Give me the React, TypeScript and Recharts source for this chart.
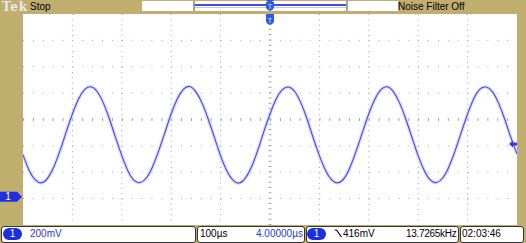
import React from 'react';
import {
  LineChart,
  Line,
  XAxis,
  YAxis,
  CartesianGrid,
  ReferenceLine,
  ReferenceDot,
} from 'recharts';

// sample times in µs (100 µs/div, 10 div on screen)
const times = [
  0, 12.5, 25, 37.5, 50, 62.5, 75, 87.5, 100, 112.5, 125, 137.5, 150, 162.5, 175, 187.5,
  200, 212.5, 225, 237.5, 250, 262.5, 275, 287.5, 300, 312.5, 325, 337.5, 350, 362.5, 375, 387.5,
  400, 412.5, 425, 437.5, 450, 462.5, 475, 487.5, 500, 512.5, 525, 537.5, 550, 562.5, 575, 587.5,
  600, 612.5, 625, 637.5, 650, 662.5, 675, 687.5, 700, 712.5, 725, 737.5, 750, 762.5, 775, 787.5,
  800, 812.5, 825, 837.5, 850, 862.5, 875, 887.5, 900, 912.5, 925, 937.5, 950, 962.5, 975, 987.5,
  1000,
];

// channel 1 trace, in divisions from screen centre (200 mV/div)
const ch1Div = [
  -1.34, -1.93, -2.29, -2.4, -2.22, -1.79, -1.18, -0.47, 0.21, 0.78, 1.14, 1.24, 1.06, 0.63, 0.02, -0.69,
  -1.37, -1.95, -2.31, -2.39, -2.21, -1.78, -1.17, -0.48, 0.22, 0.79, 1.15, 1.25, 1.05, 0.62, 0.01, -0.68,
  -1.38, -1.94, -2.3, -2.41, -2.22, -1.8, -1.18, -0.46, 0.21, 0.78, 1.13, 1.23, 1.06, 0.63, 0.02, -0.7,
  -1.37, -1.93, -2.29, -2.4, -2.23, -1.79, -1.16, -0.47, 0.22, 0.78, 1.14, 1.24, 1.05, 0.62, 0.01, -0.69,
  -1.38, -1.94, -2.3, -2.39, -2.21, -1.78, -1.17, -0.47, 0.21, 0.79, 1.15, 1.23, 1.06, 0.63, 0.02, -0.68,
  -1.3,
];

const xGrid = [100, 200, 300, 400, 600, 700, 800, 900];
const yGrid = [-3, -2, -1, 1, 2, 3];

const groundLevel = -2.93;
const trigLevel = -0.93;
const trigTime = 500;

const xMinor = Array.from({ length: 51 }, (_, i) => i * 20);
const yMinor = Array.from({ length: 41 }, (_, i) => -4 + i * 0.2);

const data = times.map((t, i) => ({ t, v: ch1Div[i] }));

const TAN = '#BFAE6D';
const BLUE = '#2a36dc';
const FONT = '"Liberation Sans", Arial, sans-serif';
const noLabel = () => '';

const ChannelMarker = (p: any) => {
  const { cx, cy } = p;
  const l = cx - 23;
  return (
    <g>
      <path
        d={`M${l},${cy - 5} H${cx - 6} L${cx - 1},${cy} L${cx - 6},${cy + 5} H${l} Z`}
        fill="#1f2fe0"
      />
      <text x={l + 8} y={cy + 3.5} fill="#fff" fontSize={10} fontFamily={FONT} textAnchor="middle">
        1
      </text>
    </g>
  );
};

const TrigLevelMarker = (p: any) => {
  const { cx, cy } = p;
  return (
    <path
      d={`M${cx - 8},${cy} L${cx - 4},${cy - 3.5} V${cy - 1.5} H${cx} V${cy + 1.5} H${cx - 4} V${cy + 3.5} Z`}
      fill="#2a3ae8"
    />
  );
};

const shield = (cx: number, y: number) =>
  `M${cx - 4},${y} H${cx + 4} V${y + 5} Q${cx + 4},${y + 7.5} ${cx},${y + 9} Q${cx - 4},${y + 7.5} ${cx - 4},${y + 5} Z`;

const TrigPosMarker = (p: any) => {
  const { cx, cy } = p;
  return (
    <g>
      <path d={`M${cx - 4.5},${cy - 14} H${cx + 4.5} L${cx},${cy - 10.5} Z`} fill="#2d5be6" />
      <path d={shield(cx, cy - 12)} fill="#2d5be6" />
      <text x={cx} y={cy - 5.5} fill="#dfe8ff" fontSize={7} fontFamily={FONT} textAnchor="middle">
        T
      </text>
      <rect x={cx - 4} y={cy} width={8} height={2} fill="#2d5be6" />
      <path d={shield(cx, cy + 2)} fill="#2d5be6" />
      <text x={cx} y={cy + 8.5} fill="#dfe8ff" fontSize={7} fontFamily={FONT} textAnchor="middle">
        T
      </text>
    </g>
  );
};

const txt = (left: number, top: number, color = '#000'): React.CSSProperties => ({
  position: 'absolute',
  left,
  top,
  color,
  fontSize: 10,
  lineHeight: '12px',
  fontFamily: FONT,
  whiteSpace: 'nowrap',
});

const box = (left: number, width: number): React.CSSProperties => ({
  position: 'absolute',
  left,
  top: 226,
  width,
  height: 17,
  boxSizing: 'border-box',
  background: '#fff',
  border: '1px solid #333',
  borderRadius: 3,
});

const pill = (left: number): React.CSSProperties => ({
  position: 'absolute',
  left,
  top: 228,
  width: 19,
  height: 12,
  borderRadius: 6,
  background: '#1d2de0',
  color: '#fff',
  fontSize: 10,
  lineHeight: '12px',
  textAlign: 'center',
  fontFamily: FONT,
});

export default function App() {
  return (
    <div
      style={{
        position: 'fixed',
        left: 0,
        top: 0,
        width: 526,
        height: 243,
        background: TAN,
        overflow: 'hidden',
      }}
    >
      {/* screen */}
      <div style={{ position: 'absolute', left: 23, top: 14, width: 494, height: 211, background: '#fff' }} />

      {/* top bar */}
      <div
        style={{
          position: 'absolute',
          left: 2,
          top: 0,
          fontFamily: '"DejaVu Serif", serif',
          fontWeight: 'bold',
          fontSize: 12,
          lineHeight: '14px',
          letterSpacing: 0.8,
          color: '#ebe8f2',
        }}
      >
        Tek
      </div>
      <div style={txt(30, 1)}>Stop</div>
      <div style={{ position: 'absolute', left: 142, top: 1, width: 256, height: 10, background: '#fff' }} />
      <div style={{ position: 'absolute', left: 193, top: 1, width: 2, height: 10, background: '#a0a0a0' }} />
      <div style={{ position: 'absolute', left: 195, top: 4, width: 151, height: 2, background: '#4a4ad8' }} />
      <div style={{ position: 'absolute', left: 195, top: 7, width: 151, height: 1, background: '#c4c4f0' }} />
      <div style={{ position: 'absolute', left: 346, top: 1, width: 2, height: 10, background: '#a0a0a0' }} />
      <div style={txt(398, 1)}>Noise Filter Off</div>

      <div style={{ position: 'absolute', left: 0, top: 0 }}>
        <LineChart width={526} height={243} data={data} margin={{ top: 14, right: 9, bottom: 18, left: 23 }}>
          <XAxis
            xAxisId="b"
            dataKey="t"
            type="number"
            domain={[0, 1000]}
            ticks={xMinor}
            interval={0}
            orientation="bottom"
            mirror
            height={0}
            axisLine={false}
            tickSize={3}
            tickLine={{ stroke: '#9a9aa8' }}
            tickFormatter={noLabel}
          />
          <XAxis
            xAxisId="top"
            dataKey="t"
            type="number"
            domain={[0, 1000]}
            ticks={xMinor}
            interval={0}
            orientation="top"
            mirror
            height={0}
            axisLine={{ stroke: '#8a8a8a', strokeDasharray: '3 2' }}
            tickSize={3}
            tickLine={{ stroke: '#9a9aa8' }}
            tickFormatter={noLabel}
          />
          <YAxis
            yAxisId="l"
            type="number"
            domain={[-4, 4]}
            ticks={yMinor}
            interval={0}
            orientation="left"
            mirror
            width={0}
            axisLine={{ stroke: '#6e3c14' }}
            tickSize={3}
            tickLine={{ stroke: '#8a6a4a' }}
            tickFormatter={noLabel}
          />
          <YAxis
            yAxisId="r"
            type="number"
            domain={[-4, 4]}
            ticks={yMinor}
            interval={0}
            orientation="right"
            mirror
            width={0}
            axisLine={{ stroke: '#8a8a8a', strokeDasharray: '3 2' }}
            tickSize={3}
            tickLine={{ stroke: '#9a9aa8' }}
            tickFormatter={noLabel}
          />
          <CartesianGrid
            xAxisId="b"
            yAxisId="l"
            vertical={false}
            horizontalValues={yGrid}
            stroke="#a4a4b8"
            strokeDasharray="1 8.88"
          />
          <CartesianGrid
            xAxisId="b"
            yAxisId="l"
            horizontal={false}
            verticalValues={xGrid}
            stroke="#a4a4b8"
            strokeDasharray="1 4.275"
          />
          <ReferenceLine xAxisId="b" yAxisId="l" y={0} stroke="#a4a4b8" strokeWidth={3} strokeDasharray="1 8.88" />
          <ReferenceLine xAxisId="b" yAxisId="l" x={500} stroke="#a4a4b8" strokeWidth={3} strokeDasharray="1 4.275" />
          <Line
            xAxisId="b"
            yAxisId="l"
            dataKey="v"
            type="natural"
            stroke="#c2c6f8"
            strokeOpacity={0.6}
            strokeWidth={3.5}
            dot={false}
            activeDot={false}
            isAnimationActive={false}
          />
          <Line
            xAxisId="b"
            yAxisId="l"
            dataKey="v"
            type="natural"
            stroke="#4848e6"
            strokeWidth={1.1}
            dot={false}
            activeDot={false}
            isAnimationActive={false}
          />
          <ReferenceDot xAxisId="b" yAxisId="l" x={0} y={groundLevel} ifOverflow="visible" shape={ChannelMarker} />
          <ReferenceDot xAxisId="b" yAxisId="l" x={1000} y={trigLevel} ifOverflow="visible" shape={TrigLevelMarker} />
          <ReferenceDot xAxisId="b" yAxisId="l" x={trigTime} y={4} ifOverflow="visible" shape={TrigPosMarker} />
        </LineChart>
      </div>

      {/* bottom readouts */}
      <div style={box(1, 195)} />
      <div style={pill(3)}>1</div>
      <div style={txt(30, 228, BLUE)}>200mV</div>

      <div style={box(197, 108)} />
      <div style={txt(200, 228)}>100µs</div>
      <div style={txt(256, 228, BLUE)}>4.00000µs</div>

      <div style={box(306, 153)} />
      <div style={pill(307)}>1</div>
      <svg style={{ position: 'absolute', left: 334, top: 229 }} width={9} height={9}>
        <polyline points="0.5,1 2.5,1 7.5,8" fill="none" stroke="#000" strokeWidth={1.2} />
      </svg>
      <div style={txt(343, 228)}>416mV</div>
      <div style={{ ...txt(406, 228), letterSpacing: -0.3 }}>13.7265kHz</div>

      <div style={box(460, 64)} />
      <div style={txt(462, 228)}>02:03:46</div>
    </div>
  );
}
